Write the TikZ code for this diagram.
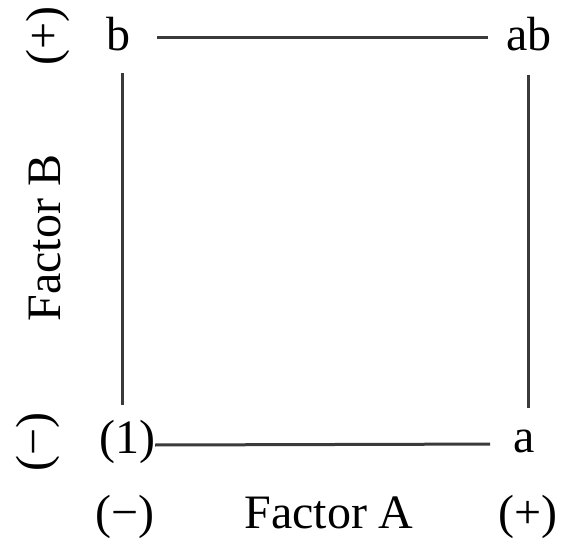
\documentclass[tikz,border=0pt]{standalone}
\usepackage{fontspec}
\setmainfont{Liberation Serif}
\usepackage{tikz}
\usetikzlibrary{positioning, calc}
\definecolor{edgegray}{HTML}{3A3A3A}

\begin{document}
\begin{tikzpicture}[x=1pt, y=-1pt,
    txt/.style={font=\fontsize{48}{56}\selectfont, inner sep=0pt},
    corner/.style={txt, text height=36pt, text depth=12pt, anchor=base},
    side/.style={edgegray, line width=3pt}]
    \useasboundingbox (0,0) rectangle (565,540);

    % treatment combinations
    \node[corner] (b)   at (118,51)  {b};
    \node[corner] (ab)  at (529,51)  {ab};
    \node[corner] (one) at (127,453) {(1)};
    \node[corner] (a)   at (524,452) {a};

    % edges of the square
    \draw[side, shorten <=27pt, shorten >=18pt] ([yshift=1pt]b.east) -- ([yshift=1pt]ab.west);
    \draw[side, shorten >=23pt] ([yshift=-4pt]one.east) -- ([yshift=-4pt]a.west);
    \draw[side, shorten <=10pt, shorten >=12pt] ([xshift=4pt]b.south) -- ([xshift=4pt]b.south |- one.north);
    \draw[side, shorten <=12pt, shorten >=8pt] ([xshift=-1pt]ab.south) -- ([xshift=-1pt]ab.south |- a.north);

    % factor levels and names
    \node[txt, anchor=base] (loA)   at (125,528) {(−)};
    \node[txt, anchor=base] (hiA)   at (528,528) {(+)};
    \node[txt, anchor=base] (facA)  at (329,528) {Factor A};
    \node[txt, rotate=90]   (hiB)   at (48,36)   {(+)};
    \node[txt, rotate=90]   (loB)   at (38,442)  {(−)};
    \node[txt, rotate=90]   (facB)  at (45,238)  {Factor B};
\end{tikzpicture}
\end{document}
